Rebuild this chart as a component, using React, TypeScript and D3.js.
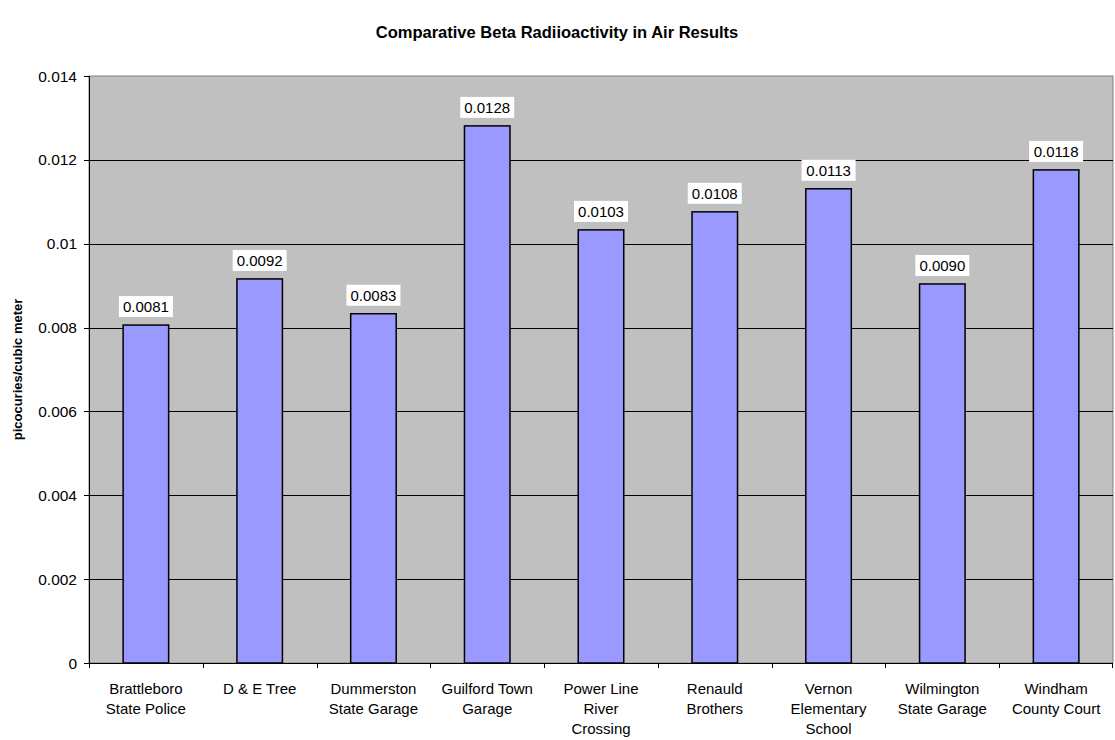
import React from "react";
import * as d3 from "d3";

const categories: string[][] = [
  ["Brattleboro", "State Police"],
  ["D & E Tree"],
  ["Dummerston", "State Garage"],
  ["Guilford Town", "Garage"],
  ["Power Line", "River", "Crossing"],
  ["Renauld", "Brothers"],
  ["Vernon", "Elementary", "School"],
  ["Wilmington", "State Garage"],
  ["Windham", "County Court"],
];
const values: number[] = [0.00806, 0.00916, 0.00833, 0.01281, 0.01033, 0.01076, 0.01131, 0.00904, 0.01176];
const yTicks: number[] = [0, 0.002, 0.004, 0.006, 0.008, 0.01, 0.012, 0.014];
const yTickLabels: string[] = ["0", "0.002", "0.004", "0.006", "0.008", "0.01", "0.012", "0.014"];
const title = "Comparative Beta Radiioactivity in Air Results";
const yTitle = "picocuries/cubic meter";

const W = 1115, H = 740;
const left = 89, right = 1113, top = 76, bottom = 663;
const font = "Arial, 'Liberation Sans', sans-serif";

export default function App() {
  const x = d3.scaleBand<number>().domain(values.map((_, i) => i)).range([left, right]).paddingInner(0.6).paddingOuter(0.3);
  const xb = d3.scaleBand<number>().domain(values.map((_, i) => i)).range([left, right]);
  const y = d3.scaleLinear().domain([0, 0.014]).range([bottom, top]);
  return (
    <svg width={W} height={H} style={{ position: "absolute", left: 0, top: 0, background: "#fff" }} fontFamily={font}>
      <text x={557} y={38} textAnchor="middle" fontSize={16.5} fontWeight="bold">{title}</text>
      <rect x={left} y={top} width={right - left} height={bottom - top} fill="#C0C0C0" stroke="#808080" strokeWidth={1} />
      {yTicks.filter(t => t > 0 && t < 0.014).map((t, i) => (
        <line key={"g" + i} x1={left} x2={right} y1={Math.round(y(t)) + 0.5} y2={Math.round(y(t)) + 0.5} stroke="#000" strokeWidth={1} />
      ))}
      {values.map((v, i) => (
        <rect key={"b" + i} x={x(i)} y={y(v)} width={x.bandwidth()} height={bottom - y(v)} fill="#9999FF" stroke="#000" strokeWidth={1.5} />
      ))}
      <line x1={left + 0.5} x2={left + 0.5} y1={top} y2={bottom} stroke="#000" />
      <line x1={left} x2={right} y1={bottom + 0.5} y2={bottom + 0.5} stroke="#000" />
      {yTicks.map((t, i) => (
        <g key={"yt" + i}>
          <line x1={left - 5} x2={left} y1={Math.round(y(t)) + 0.5} y2={Math.round(y(t)) + 0.5} stroke="#000" />
          <text x={left - 12} y={y(t) + 5.5} textAnchor="end" fontSize={15.5}>{yTickLabels[i]}</text>
        </g>
      ))}
      {values.map((_, i) => (
        <line key={"xt" + i} x1={Math.round(xb(i)!) + 0.5} x2={Math.round(xb(i)!) + 0.5} y1={bottom} y2={bottom + 5} stroke="#000" />
      ))}
      <line x1={right - 0.5} x2={right - 0.5} y1={bottom} y2={bottom + 5} stroke="#000" />
      {categories.map((lines, i) => (
        <text key={"c" + i} x={xb(i)! + xb.bandwidth() / 2} y={694} textAnchor="middle" fontSize={15}>
          {lines.map((l, j) => (
            <tspan key={j} x={xb(i)! + xb.bandwidth() / 2} dy={j === 0 ? 0 : 20}>{l}</tspan>
          ))}
        </text>
      ))}
      {values.map((v, i) => {
        const cx = x(i)! + x.bandwidth() / 2;
        const ty = y(v) - 13;
        const label = v.toFixed(4);
        return (
          <g key={"l" + i}>
            <rect x={cx - 27} y={ty - 16} width={54} height={21} fill="#fff" />
            <text x={cx} y={ty} textAnchor="middle" fontSize={15}>{label}</text>
          </g>
        );
      })}
      <text transform={`translate(22,${(top + bottom) / 2}) rotate(-90)`} textAnchor="middle" fontSize={13} fontWeight="bold">{yTitle}</text>
    </svg>
  );
}
